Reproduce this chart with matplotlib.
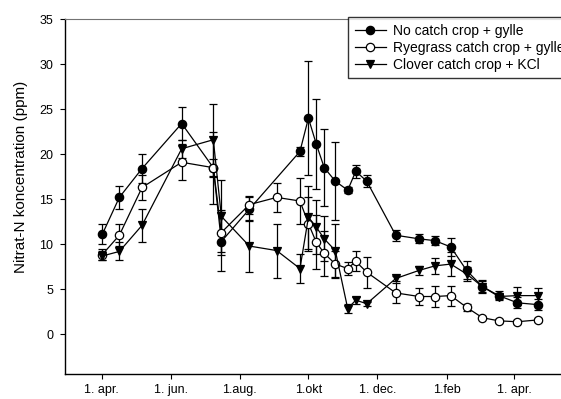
import numpy as np
from matplotlib import pyplot as plt

plt.rcParams['font.family'] = ['Liberation Sans', 'DejaVu Sans']

# days counted from 1. april
days = [0.5, 15.6, 35.7, 70.8, 98.8, 105.9, 130.7, 154.9, 175.5, 183.0, 190.0, 197.0, 206.8,
        217.8, 224.9, 234.6, 260.3, 281.0, 295.0, 309.0, 323.0, 337.0, 351.5, 368.0, 386.0]
nan = np.nan

no_catch = [11.1, 15.2, 18.4, 23.4, 18.5, 10.3, 13.9, nan, 20.3, 24.0, 21.1, 18.5, 17.0,
            16.0, 18.1, 17.0, 11.0, 10.6, 10.4, 9.7, 7.1, 5.3, 4.3, 3.5, 3.3]
no_catch_err = [1.1, 1.3, 1.6, 1.8, 4.0, 3.3, 1.3, nan, 0.5, 6.3, 5.0, 4.3, 4.3,
                0.3, 0.7, 0.7, 0.6, 0.5, 0.5, 1.0, 1.0, 0.7, 0.5, 0.6, 0.6]

ryegrass = [8.85, 11.0, 16.3, 19.1, 18.5, 11.3, 14.4, 15.2, 14.8, 12.3, 10.2, 9.0, 7.8,
            7.3, 8.1, 6.9, 4.6, 4.2, 4.2, 4.3, 3.0, 1.85, 1.5, 1.4, 1.6]
ryegrass_err = [0.6, 1.2, 1.4, 2.0, 1.0, 2.5, 1.0, 1.6, 2.5, 3.0, 3.0, 2.5, 1.5,
                0.7, 1.1, 1.7, 1.1, 0.9, 1.2, 1.1, 0.4, 0.2, 0.2, 0.2, 0.2]

clover = [8.7, 9.2, 12.1, 20.6, 21.6, 13.1, 9.8, 9.3, 7.3, 13.0, 11.9, 10.6, 9.3,
          2.85, 3.8, 3.4, 6.2, 7.1, 7.6, 7.8, 6.7, 5.3, 4.2, 4.3, 4.3]
clover_err = [0.5, 1.0, 1.8, 1.0, 4.0, 4.0, 2.9, 3.0, 1.6, 3.5, 3.0, 2.5, 2.9,
              0.5, 0.4, 0.2, 0.3, 0.5, 0.9, 1.3, 0.8, 0.6, 0.3, 1.0, 0.9]

tick_days = [0, 61, 122, 183, 244, 306, 365]
tick_labels = ['1. apr.', '1. jun.', '1.aug.', '1.okt', '1. dec.', '1.feb', '1. apr.']

series = [
    ('No catch crop + gylle', no_catch, no_catch_err, 'o', 'black'),
    ('Ryegrass catch crop + gylle', ryegrass, ryegrass_err, 'o', 'white'),
    ('Clover catch crop + KCl', clover, clover_err, 'v', 'black'),
]

fig = plt.figure(figsize=(5.61, 3.99), dpi=100)
ax = fig.add_axes([65 / 561, 1 - 374 / 399, 1 - 65 / 561, (374 - 19) / 399])

x_all = np.array(days)
handles = []
for label, vals, errs, mk, fc in series:
    y = np.array(vals)
    e = np.array(errs)
    ok = ~np.isnan(y)
    cont = ax.errorbar(x_all[ok], y[ok], yerr=e[ok], color='black', lw=0.9, marker=mk,
                       markersize=6, markerfacecolor=fc, markeredgecolor='black',
                       markeredgewidth=0.9, elinewidth=0.9, capsize=2.8, capthick=0.9,
                       label=label)
    handles.append(cont[0])  # line only, no error bar in legend

ax.set_xlim(-32.5, 406.6)
ax.set_ylim(-4.4, 35)
ax.set_yticks(range(0, 36, 5))
ax.set_xticks(tick_days)
ax.set_xticklabels(tick_labels)
ax.tick_params(axis='both', direction='out', length=3.5, width=0.8, labelsize=9, pad=5)
ax.tick_params(axis='x', pad=4)
ax.set_ylabel('Nitrat-N koncentration (ppm)', fontsize=11)
ax.yaxis.set_label_coords(-0.075, 0.555)

for s in ['left', 'bottom']:
    ax.spines[s].set_linewidth(1.0)
ax.spines['top'].set_color('0.45')
ax.spines['right'].set_visible(False)

leg = ax.legend(handles, [s[0] for s in series], loc='upper left',
                bbox_to_anchor=(348 / 561, 1 - 17 / 399),
                bbox_transform=fig.transFigure, fontsize=10, frameon=True, fancybox=False,
                edgecolor='black', handlelength=2.2, handletextpad=0.55, labelspacing=0.2,
                borderaxespad=0, borderpad=0.5)
leg.get_frame().set_linewidth(1.0)

fig.savefig('out.png', dpi=100)
